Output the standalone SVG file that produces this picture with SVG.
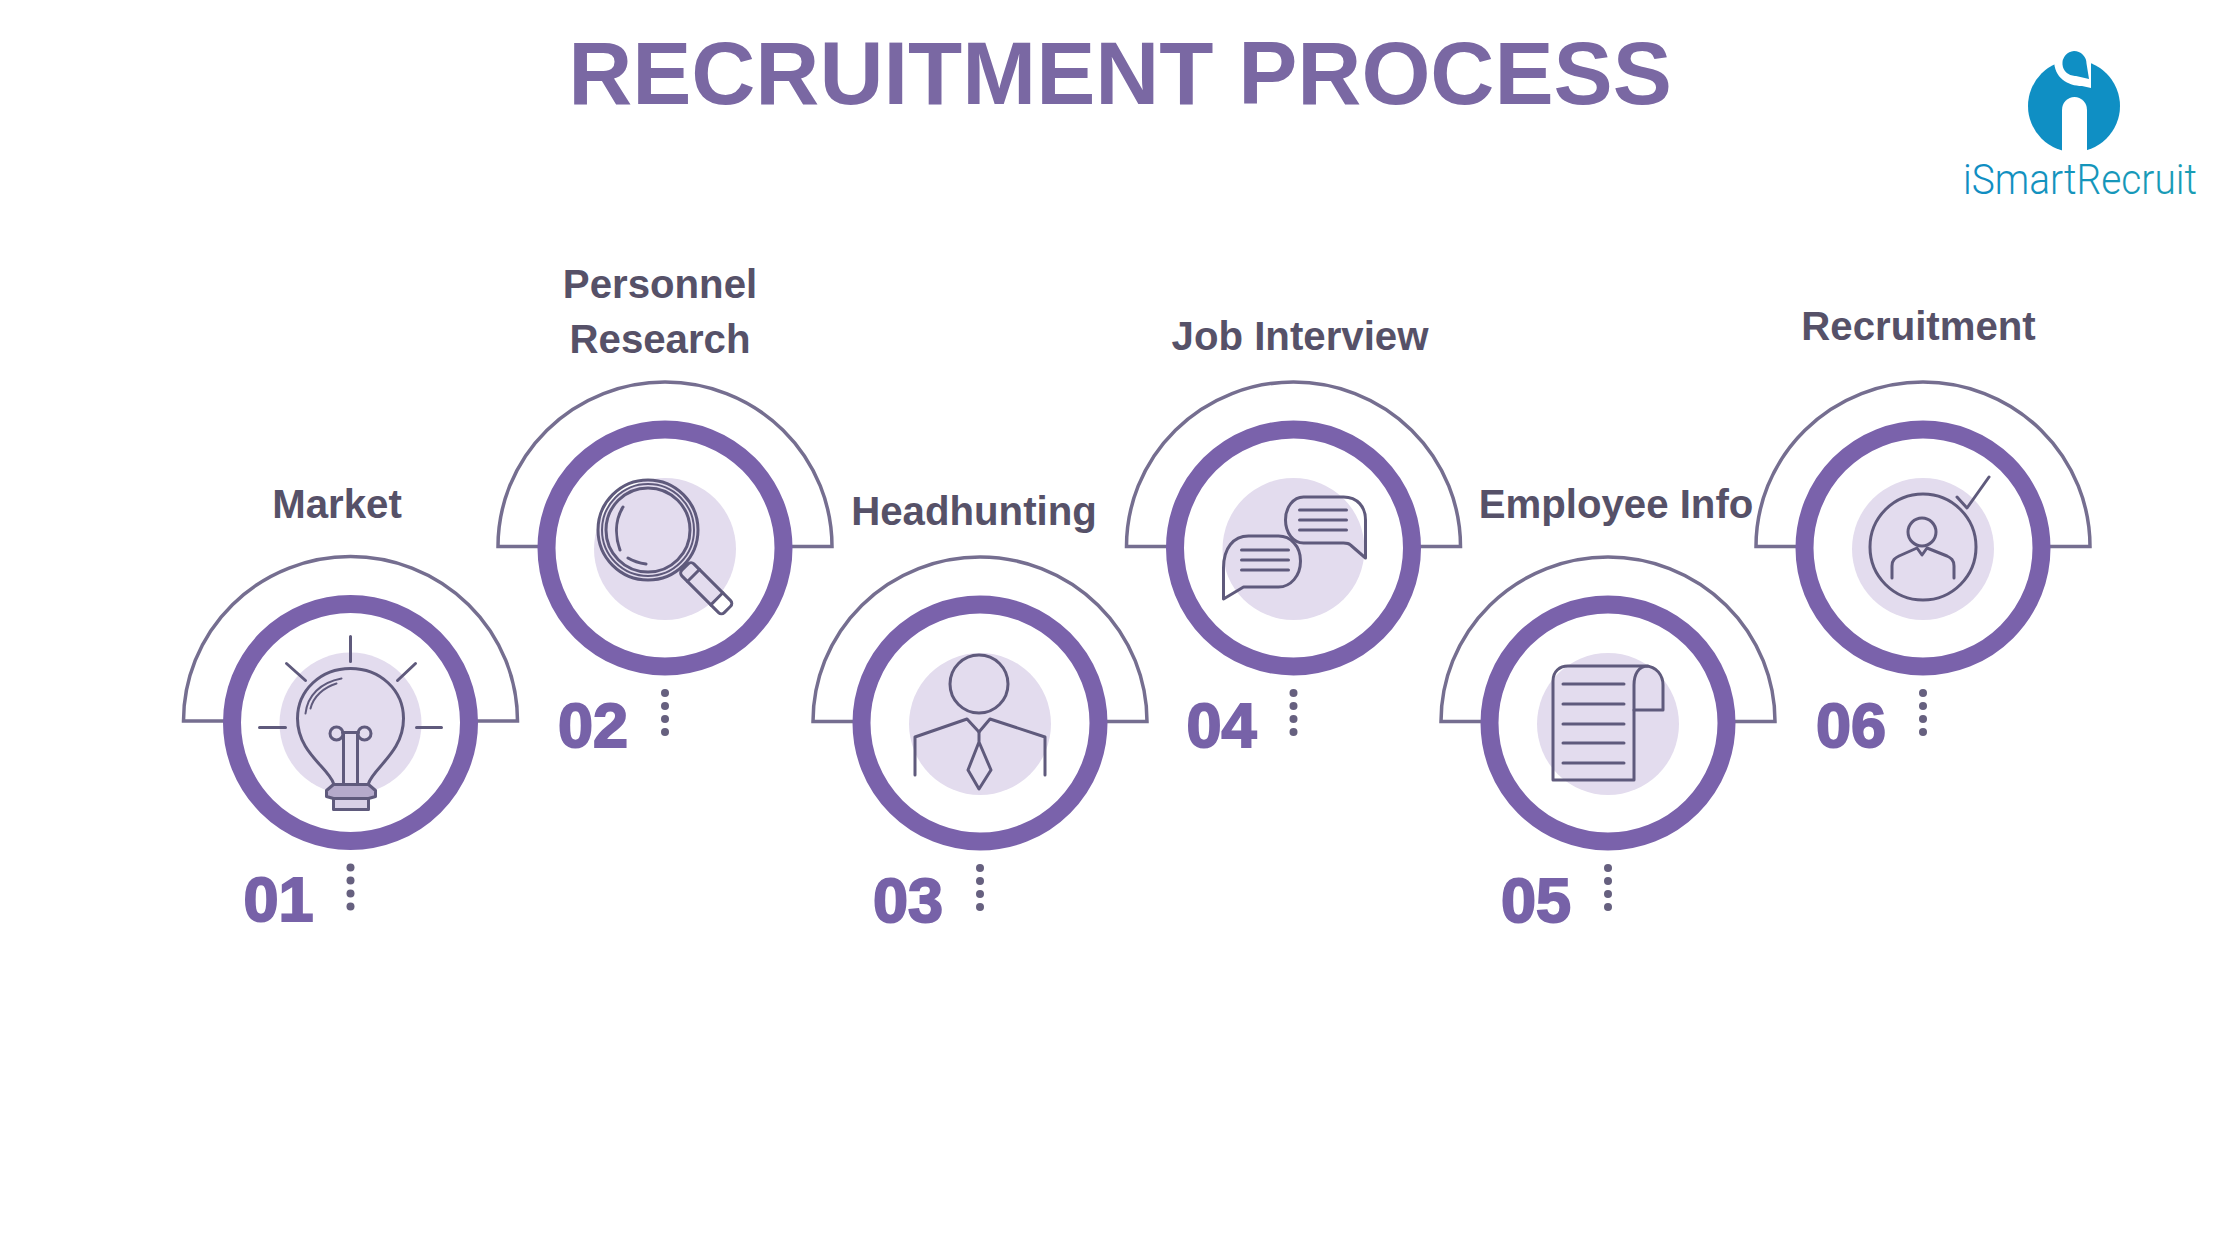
<svg xmlns="http://www.w3.org/2000/svg" width="2240" height="1260" viewBox="0 0 2240 1260">
<style>
text{font-family:"Liberation Sans",Arial,sans-serif;font-weight:700}
.title{font-size:88.700px;fill:#7a68a3;text-anchor:middle}
.label{font-size:40.200px;fill:#565168;text-anchor:middle}
.num{font-size:63px;fill:#7762a8;stroke:#7762a8;stroke-width:2px}
.arch{fill:#fff;stroke:#756e90;stroke-width:3.500}
.ring{fill:#fff;stroke:#7a62ab;stroke-width:18}
.halo{fill:#e3dcee}
.ln{fill:none;stroke:#5f5a7c;stroke-width:3;stroke-linecap:round;stroke-linejoin:round}
.th{fill:none;stroke:#5f5a7c;stroke-width:2;stroke-linecap:round}
.dot{fill:#66607f}
.wm{font-family:Roboto,"Liberation Sans",sans-serif;font-weight:300;font-size:43px;fill:url(#lg)}
</style>
<defs>
<linearGradient id="lg" x1="0" x2="1" y1="0" y2="0"><stop offset="0" stop-color="#0f8cc3"/><stop offset="1" stop-color="#1a9db4"/></linearGradient>
<g id="base">
<path class="arch" d="M-167,-1.500A167,164.500 0 0 1 167,-1.500Z"/>
<circle class="ring" r="118.500"/>
<circle class="halo" cx="0" cy="1" r="71"/>
<circle class="dot" cy="145" r="4"/><circle class="dot" cy="158" r="4"/><circle class="dot" cy="171" r="4"/><circle class="dot" cy="184" r="4"/>
</g>
</defs>
<rect width="2240" height="1260" fill="#fff"/>
<text class="title" x="1120" y="104">RECRUITMENT PROCESS</text>
<g id="logo">
<circle cx="2074" cy="106" r="46" fill="#0f8fc4"/>
<path fill="#fff" d="M2062,154V110A12.500,13 0 0 1 2087,110V154Z"/>
<path fill="#fff" d="M2054,60C2054,78 2068,86 2082,86L2091,88V55L2080,50Z"/>
<path fill="#0f8fc4" d="M2074,51A12.500,12.500 0 0 1 2086.500,63.500L2089,79L2076,76A12.500,12.500 0 1 1 2074,51Z"/>
<text class="wm" x="1963" y="194" textLength="234" lengthAdjust="spacingAndGlyphs">iSmartRecruit</text>
</g>
<g id="connectors"></g>
<g id="node-1" transform="translate(350.500,722.500)">
<use href="#base"/>
<path class="ln" d="M0,-86V-61M-64,-59L-45,-42M65,-59L47,-42M-91,5H-65M66,5H91"/>
<path class="ln" d="M-17,61C-22,45 -53,30 -53,-4C-53,-32 -30,-54 0,-54C30,-54 53,-32 53,-4C53,30 23,45 18,61"/>
<path class="ln" d="M-7,61V10M7,61V10M-8,10H8"/><circle class="ln" cx="-14" cy="11" r="6.500"/><circle class="ln" cx="14" cy="11" r="6.500"/>
<path class="th" d="M-45,-9C-43,-27 -30,-40 -9,-44M-40,-14C-37,-26 -27,-35 -14,-39"/>
<path fill="#b5aacb" stroke="#5f5a7c" stroke-width="3" stroke-linejoin="round" d="M-17,62H18L25,68V74L18,76H-17L-24,74V68Z"/>
<path fill="#d8d0e6" stroke="#5f5a7c" stroke-width="3" stroke-linejoin="round" d="M-17,76H18V87H-17Z"/>
<text class="label" x="-13.500" y="-204.500">Market</text>
<text class="num" x="-107" y="198.500">01</text>
</g>
<g id="node-2" transform="translate(665,548)">
<use href="#base"/>
<circle class="ln" cx="-17" cy="-18" r="50"/><circle class="th" cx="-17" cy="-18" r="46"/><circle class="ln" cx="-17" cy="-18" r="42"/>
<path class="ln" d="M-42,-41C-50,-28 -50,-12 -45,2M-37,10C-32,13 -26,15 -19,16"/>
<g transform="translate(20,19) rotate(45)"><rect x="45" y="-8" width="15" height="16" rx="3" fill="#fff"/><rect class="ln" x="0" y="-8.500" width="60" height="17" rx="4"/><path class="ln" d="M12,-8.500V8.500M45,-8.500V8.500"/></g>
<text class="label" x="-5" y="-250.500">Personnel</text>
<text class="label" x="-5" y="-195">Research</text>
<text class="num" x="-107" y="198.500">02</text>
</g>
<g id="node-3" transform="translate(980,723)">
<use href="#base"/>
<circle class="ln" cx="-1" cy="-39" r="29"/>
<path class="ln" d="M-65,52V14L-13,-4L-1,9L10,-4L65,14V52"/>
<path class="ln" d="M-1,9V19L-12,47L-1,66L11,47L-1,19"/>
<text class="label" x="-6" y="-198">Headhunting</text>
<text class="num" x="-107" y="198.500">03</text>
</g>
<g id="node-4" transform="translate(1293.500,548)">
<use href="#base"/>
<path class="ln" d="M10,-51H50C64,-51 72,-41 72,-28V10L57,-3C55,-5 52,-5 50,-5H10C0,-5 -8,-15 -8,-28C-8,-41 0,-51 10,-51Z"/>
<path class="ln" d="M6,-38H53M6,-28H53M6,-18H53"/>
<path class="ln" d="M-45,-12H-15C-3,-12 7,-2 7,13C7,28 -3,39 -15,39H-50L-70,51V20C-70,0 -60,-12 -45,-12Z"/>
<path class="ln" d="M-52,2H-5M-52,12H-5M-52,22H-5"/>
<text class="label" x="6.500" y="-198">Job Interview</text>
<text class="num" x="-107" y="198.500">04</text>
</g>
<g id="node-5" transform="translate(1608,723)">
<use href="#base"/>
<path class="ln" d="M-55,57V-42C-55,-52 -48,-57 -40,-57H37C49,-57 55,-47 55,-38V-13H26V57Z"/>
<path class="ln" d="M26,-13V-38C26,-48 30,-57 40,-57"/>
<path class="ln" d="M-45,-39H16M-45,-19H16M-45,1H16M-45,20H16M-45,40H16"/>
<text class="label" x="8" y="-205">Employee Info</text>
<text class="num" x="-107" y="198.500">05</text>
</g>
<g id="node-6" transform="translate(1923,548)">
<use href="#base"/>
<circle class="ln" cx="0" cy="-1" r="53"/>
<circle class="ln" cx="-1" cy="-16" r="14"/>
<path class="ln" d="M-31,30V18C-31,12 -28,10 -24,8L-6,0L-1,7L4,0L24,8C28,10 31,12 31,18V30"/>
<path class="ln" d="M34,-51L44,-40L66,-71"/>
<text class="label" x="-4.500" y="-208.500">Recruitment</text>
<text class="num" x="-107" y="198.500">06</text>
</g>
</svg>
